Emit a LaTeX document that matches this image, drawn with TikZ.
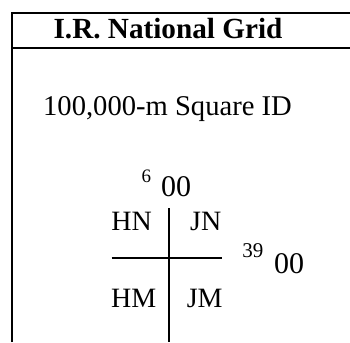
\documentclass[tikz,border=0pt]{standalone}
\usepackage{fontspec}
\setmainfont{Liberation Serif}
\begin{document}
\begin{tikzpicture}[x=1pt,y=-1pt,
  txt/.style={inner sep=0pt,outer sep=0pt,anchor=base,font=\fontsize{28}{32}\selectfont},
  sup/.style={inner sep=0pt,outer sep=0pt,anchor=base west,font=\fontsize{19}{22}\selectfont},
  frame/.style={line width=2.2pt},
  gridline/.style={line width=2.2pt}]
\useasboundingbox (0,0) rectangle (350,342);
% frame
\coordinate (fbl) at (12,342);
\coordinate (ftl) at (12,13);
\coordinate (ftr) at (350,13);
\coordinate (fsl) at (12,48);
\coordinate (fsr) at (350,48);
\draw[frame] (fbl) -- (ftl) -- (ftr);
\draw[frame] (fsl) -- (fsr);
% texts
\node[txt,font=\fontsize{29.2}{32}\selectfont\bfseries] (title) at (168,39) {I.R. National Grid};
\node[txt,font=\fontsize{28.6}{32}\selectfont] (sqid) at (167.5,115) {100,000-m Square ID};
\node[sup] (six) at (141.5,182) {6};
\node[txt,font=\fontsize{30}{32}\selectfont] (topzz) at (176,196) {00};
\node[txt] (hn) at (131.7,230.7) {HN};
\node[txt] (jn) at (205.8,230.7) {JN};
\node[txt] (hm) at (133.8,307.7) {HM};
\node[txt] (jm) at (204.7,307.7) {JM};
\node[sup,font=\fontsize{21}{24}\selectfont] (tn) at (242.3,257.3) {39};
\node[txt,font=\fontsize{30}{32}\selectfont] (rzz) at (289,273.3) {00};
% cross
\coordinate (vt) at (169.3,208);
\coordinate (vb) at (169.3,342);
\coordinate (hl) at (111.7,258.3);
\coordinate (hr) at (221.7,258.3);
\draw[gridline] (vt) -- (vb);
\draw[gridline] (hl) -- (hr);
\end{tikzpicture}
\end{document}
